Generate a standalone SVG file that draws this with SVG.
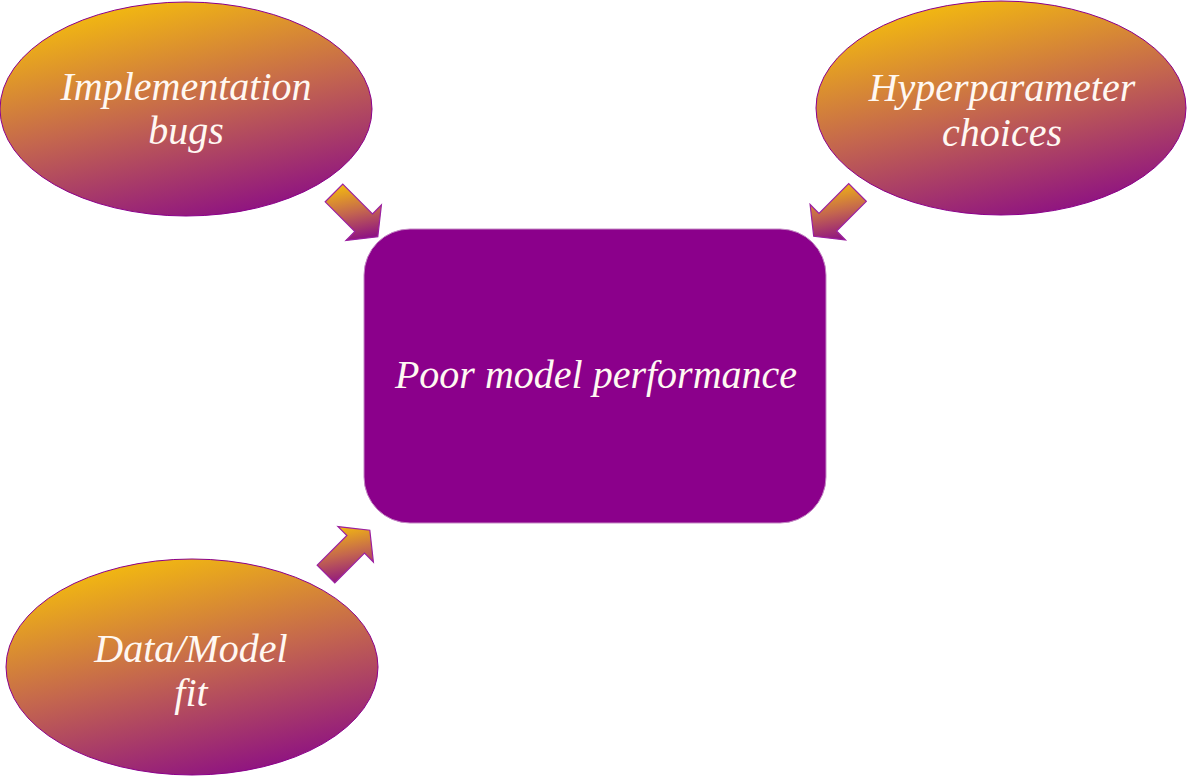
<svg xmlns="http://www.w3.org/2000/svg" width="1188" height="783" viewBox="0 0 1188 783">
<defs>
<linearGradient id="g" x1="0.3" y1="0" x2="0.7" y2="1">
<stop offset="0" stop-color="#F4BC0E"/>
<stop offset="0.5" stop-color="#C4664E"/>
<stop offset="1" stop-color="#8C0F84"/>
</linearGradient>
<linearGradient id="ga" x1="0.4" y1="0" x2="0.6" y2="1">
<stop offset="0" stop-color="#F2B810"/>
<stop offset="0.5" stop-color="#C4664E"/>
<stop offset="1" stop-color="#8C0F84"/>
</linearGradient>
</defs>
<style>
.blob{fill:url(#g);stroke:#8B008B;stroke-width:1}
.arrow{fill:url(#ga);stroke:#9B1FA0;stroke-width:1.2}
.main{fill:#8B008B;stroke:#C58AC5;stroke-width:1}
text{font-family:"Liberation Serif","DejaVu Serif",serif;font-style:italic;fill:#FFF8F2;text-anchor:middle;font-size:40px}
</style>
<g id="connectors">
<polygon class="arrow" points="342.8,184.2 372.5,213.9 381.4,205.0 377.8,236.8 346.0,240.4 354.9,231.5 325.2,201.8"/>
<polygon class="arrow" points="866.3,201.3 836.6,231.0 845.5,239.9 813.7,236.3 810.1,204.5 819.0,213.4 848.7,183.7"/>
<polygon class="arrow" points="317.2,565.2 346.9,535.5 338.0,526.6 369.8,530.2 373.4,562.0 364.5,553.1 334.8,582.8"/>
</g>
<g id="node-implementation">
<ellipse class="blob" cx="186" cy="109" rx="186" ry="107"/>
<text x="186" y="100">Implementation</text>
<text x="186" y="144">bugs</text>
</g>
<g id="node-hyperparameter">
<ellipse class="blob" cx="1001" cy="108" rx="185" ry="107"/>
<text x="1002" y="101">Hyperparameter</text>
<text x="1002" y="146">choices</text>
</g>
<g id="node-datamodel">
<ellipse class="blob" cx="192" cy="667" rx="186" ry="108"/>
<text x="191" y="662">Data/Model</text>
<text x="191" y="706">fit</text>
</g>
<g id="node-poor">
<rect class="main" x="364" y="229" width="462" height="294" rx="46" ry="46"/>
<text x="596" y="388">Poor model performance</text>
</g>
</svg>
